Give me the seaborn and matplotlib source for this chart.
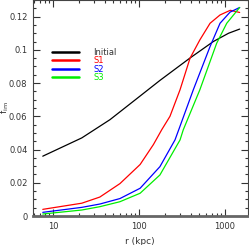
import numpy as np
import pandas as pd
import matplotlib
matplotlib.use("Agg")
import matplotlib.pyplot as plt
import seaborn as sns
from matplotlib.ticker import FixedLocator, MultipleLocator, FuncFormatter, LogLocator, NullFormatter

# ---- data ----
r_initial = [7.6, 21.6, 46, 100, 175, 392, 731, 1100, 1480]
f_initial = [0.036, 0.047, 0.058, 0.0717, 0.0816, 0.0951, 0.105, 0.110, 0.1125]

r_s1 = [7.6, 21.6, 35, 60, 103, 147, 184, 229, 300, 392, 510, 670, 875, 1150, 1480]
f_s1 = [0.004, 0.0077, 0.0114, 0.0195, 0.031, 0.043, 0.052, 0.060, 0.076, 0.095, 0.106, 0.116, 0.121, 0.1238, 0.1225]

r_s2 = [7.6, 21.6, 35, 60, 103, 175, 262, 290, 428, 670, 875, 1144, 1480]
f_s2 = [0.0022, 0.0052, 0.0072, 0.0105, 0.0167, 0.0297, 0.0458, 0.052, 0.076, 0.102, 0.116, 0.1227, 0.1255]

r_s3 = [7.6, 21.6, 35, 60, 103, 175, 300, 327, 510, 800, 1047, 1480]
f_s3 = [0.0012, 0.0036, 0.0056, 0.0086, 0.0137, 0.0247, 0.0458, 0.0519, 0.076, 0.104, 0.116, 0.1255]

labels = ["Initial", "S1", "S2", "S3"]
colors = ["#000000", "#ff0000", "#0000ff", "#00ee00"]
x_major = [10, 100, 1000]
x_major_labels = ["10", "100", "1000"]
y_major = [0, 0.02, 0.04, 0.06, 0.08, 0.10, 0.12]

frames = []
for lab, rr, ff in zip(labels, [r_initial, r_s1, r_s2, r_s3], [f_initial, f_s1, f_s2, f_s3]):
    frames.append(pd.DataFrame({"r": rr, "f": ff, "model": lab}))
df = pd.concat(frames, ignore_index=True)

sns.set_style("ticks")
plt.rcParams['font.family'] = ['DejaVu Sans']

fig = plt.figure(figsize=(2.49, 2.45), dpi=100)
ax = fig.add_axes([33/249, 1 - 216/245, 215/249, 216/245])

sns.lineplot(data=df, x="r", y="f", hue="model", hue_order=labels,
             palette=dict(zip(labels, colors)), sort=False, estimator=None,
             linewidth=0.9, ax=ax, legend=False)

ax.set_xscale("log")
ax.set_xlim(5.85, 1850)
ax.set_ylim(0, 0.13)

ax.xaxis.set_major_locator(FixedLocator(x_major))
ax.set_xticklabels(x_major_labels)
ax.xaxis.set_minor_locator(LogLocator(base=10, subs=np.arange(2, 10)))
ax.xaxis.set_minor_formatter(NullFormatter())
ax.yaxis.set_major_locator(FixedLocator(y_major))
ax.yaxis.set_minor_locator(MultipleLocator(0.005))
ax.yaxis.set_major_formatter(FuncFormatter(lambda v, p: "%g" % round(v, 3)))

ax.tick_params(which="both", direction="in", top=True, right=True,
               labelsize=6, colors="#333333", labelcolor="#333333", width=0.8)
ax.tick_params(which="major", length=5, pad=4)
ax.tick_params(which="minor", length=2.5)

for s in ["left", "right", "top"]:
    ax.spines[s].set_linewidth(0.8)
    ax.spines[s].set_color("#444444")
ax.spines["bottom"].set_linewidth(2.0)
ax.spines["bottom"].set_color("#666666")

ax.set_xlabel("r (kpc)", fontsize=6.5, color="#333333")
ax.xaxis.set_label_coords((140 - 33) / 215, -(237 - 216) / 216)
ax.set_ylabel(r"f$_{\rm im}$", fontsize=6.5, color="#333333")
ax.yaxis.set_label_coords(-(33 - 11) / 215, 1 - (108 / 216))

handles = [plt.Line2D([], [], color=c, lw=1.8) for c in colors]
leg = ax.legend(handles, labels, loc="upper left", bbox_to_anchor=(0.075, 0.795),
                frameon=False, fontsize=6, handlelength=3.2, handletextpad=1.7,
                labelspacing=-0.05, borderaxespad=0)
for t, c in zip(leg.get_texts(), colors):
    t.set_color(c if c != "#000000" else "#333333")

fig.savefig("out.png", dpi=100)
